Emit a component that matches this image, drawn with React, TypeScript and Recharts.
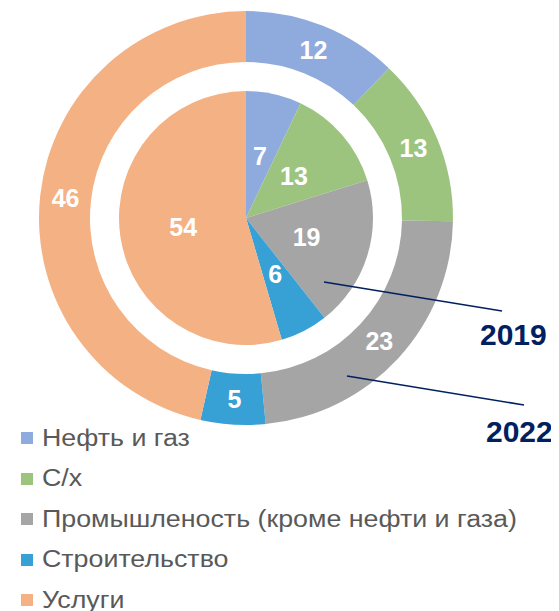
import React from "react";
import { PieChart, Pie, Cell, Legend } from "recharts";

const categories = [
  "Нефть и газ",
  "С/х",
  "Промышленость (кроме нефти и газа)",
  "Строительство",
  "Услуги",
];
const colors = ["#8FAADC", "#9DC47F", "#A5A5A5", "#37A1D6", "#F4B183"];
const values2019 = [7, 13, 19, 6, 54];
const values2022 = [12, 13, 23, 5, 46];
const yearLabels = ["2019", "2022"];

const data2019 = categories.map((name, i) => ({ name, value: values2019[i] }));
const data2022 = categories.map((name, i) => ({ name, value: values2022[i] }));

const W = 551;
const H = 603;
const CX = 238;
const CY = 210;
const RAD = Math.PI / 180;
const FONT = "'Liberation Sans', Arial, sans-serif";

const makeLabel = (frac: number | null) => (props: any) => {
  const { cx, cy, midAngle, innerRadius, outerRadius, value } = props;
  const r = frac === null ? (innerRadius + outerRadius) / 2 : outerRadius * frac;
  const x = cx + r * Math.cos(-midAngle * RAD);
  const y = cy + r * Math.sin(-midAngle * RAD);
  return (
    <text
      x={x}
      y={y}
      fill="#FFFFFF"
      textAnchor="middle"
      dominantBaseline="central"
      fontFamily={FONT}
      fontWeight="bold"
      fontSize={25}
    >
      {value}
    </text>
  );
};

const Annotations = () => (
  <svg
    width={W}
    height={H}
    style={{ position: "absolute", left: 0, top: 0, pointerEvents: "none" }}
  >
    <line x1={CX + 78} y1={CY + 64} x2={CX + 256} y2={CY + 93} stroke="#002060" strokeWidth={1.6} />
    <text x={CX + 234} y={CY + 127} fill="#002060" fontFamily={FONT} fontWeight="bold" fontSize={30}>
      {yearLabels[0]}
    </text>
    <line x1={CX + 101} y1={CY + 158} x2={CX + 278} y2={CY + 187} stroke="#002060" strokeWidth={1.6} />
    <text x={CX + 240} y={CY + 224} fill="#002060" fontFamily={FONT} fontWeight="bold" fontSize={30}>
      {yearLabels[1]}
    </text>
  </svg>
);

const renderLegend = () => (
  <div style={{ fontFamily: FONT }}>
    {categories.map((c, i) => (
      <div key={c} style={{ display: "flex", alignItems: "center", height: 40.5 }}>
        <div style={{ width: 12, height: 12, background: colors[i], marginRight: 9, flexShrink: 0 }} />
        <span
          style={{
            fontSize: 23,
            color: "#595959",
            whiteSpace: "nowrap",
            display: "inline-block",
            transform: "scaleX(1.165)",
            transformOrigin: "left center",
          }}
        >
          {c}
        </span>
      </div>
    ))}
  </div>
);

export default function App() {
  return (
    <div style={{ position: "relative", width: W, height: H }}>
      <PieChart width={W} height={H} margin={{ top: 0, right: 0, bottom: 0, left: 0 }}>
        <Pie
          data={data2022}
          dataKey="value"
          nameKey="name"
          cx={CX}
          cy={CY}
          innerRadius={156}
          outerRadius={207}
          startAngle={90}
          endAngle={-270}
          stroke="none"
          isAnimationActive={false}
          labelLine={false}
          label={makeLabel(null)}
        >
          {data2022.map((d, i) => (
            <Cell key={d.name} fill={colors[i]} />
          ))}
        </Pie>
        <Pie
          data={data2019}
          dataKey="value"
          nameKey="name"
          cx={CX}
          cy={CY}
          innerRadius={0}
          outerRadius={127}
          startAngle={90}
          endAngle={-270}
          stroke="none"
          isAnimationActive={false}
          labelLine={false}
          label={makeLabel(0.5)}
        >
          {data2019.map((d, i) => (
            <Cell key={d.name} fill={colors[i]} />
          ))}
        </Pie>
        <Legend
          content={renderLegend}
          layout="horizontal"
          verticalAlign="bottom"
          align="left"
          wrapperStyle={{ position: "absolute", left: 13, top: 410, bottom: "auto", width: 540 }}
        />
      </PieChart>
      <Annotations />
    </div>
  );
}
